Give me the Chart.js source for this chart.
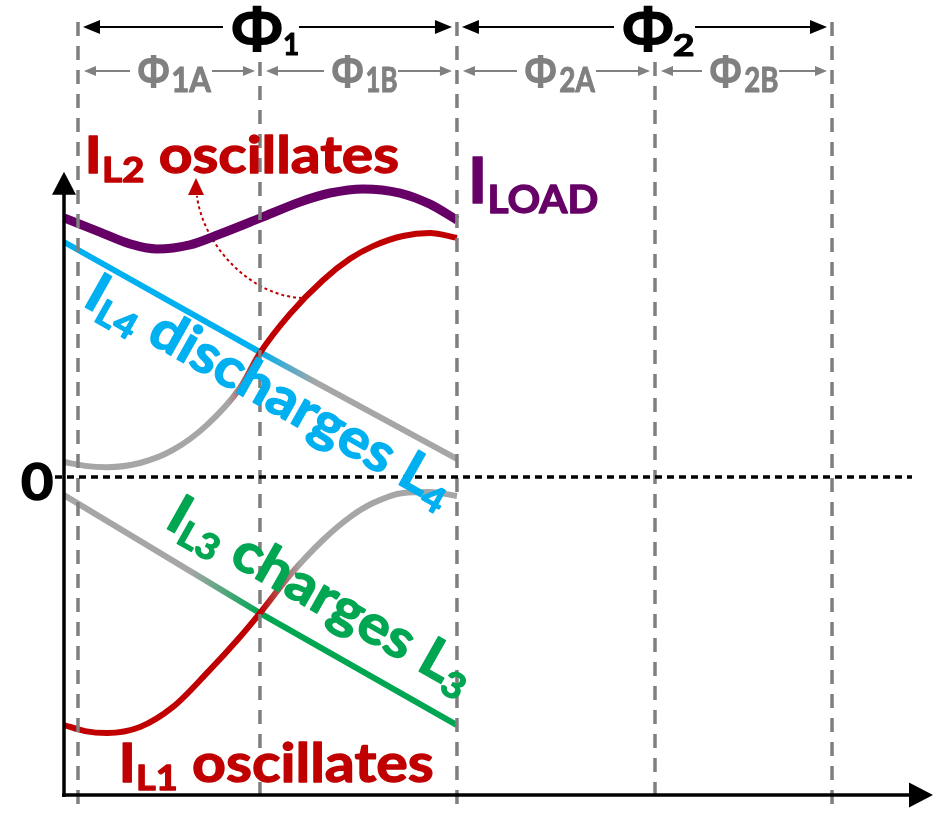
<!DOCTYPE html>
<html><head><meta charset="utf-8">
<script src="https://cdn.jsdelivr.net/npm/chart.js@4.4.0/dist/chart.umd.min.js"></script>
<style>html,body{margin:0;padding:0;background:#fff;}#wrap{width:936px;height:832px;position:relative;}</style>
</head><body><div id="wrap"><canvas id="c"></canvas></div>
<script>
// ---- data (abstract time / current units) ----
const phaseBounds = [1.61, 22.55, 45.22, 68.01, 88.38];
const tOsc  = [0, 2.42, 4.95, 8.75, 12.54, 16.46, 20.25, 22.55, 26.01, 29.80, 32.91, 35.56, 39.01, 42.12, 45.22];
const iL2   = [0.47, 0.35, 0.31, 0.44, 0.85, 1.64, 2.80, 3.90, 5.13, 6.19, 6.86, 7.26, 7.58, 7.67, 7.52];
const iL1   = [-7.80, -7.99, -8.05, -7.86, -7.23, -6.16, -5.03, -4.28, -3.08, -1.98, -1.26, -0.82, -0.50, -0.47, -0.60];
const tLoad = [0, 4.14, 7.59, 10.70, 14.50, 17.95, 22.55, 27.16, 30.61, 34.41, 38.67, 42.12, 45.22];
const iLoad = [8.15, 7.70, 7.33, 7.17, 7.30, 7.64, 8.14, 8.65, 8.93, 9.06, 8.93, 8.58, 8.08];
const tRamp = [0, 22.55, 45.22];
const iL4   = [7.39, 3.93, 0.57];
const iL3   = [-0.57, -4.28, -7.80];
const zeroLabel = '0';
const phaseTexts = [['Φ','1'], ['Φ','2']];
const subPhaseTexts = [['Φ','1A'], ['Φ','1B'], ['Φ','2A'], ['Φ','2B']];

// ---- styles ----
const RED = '#c00000', BLUE = '#00b0f0', GREEN = '#00a651', PURPLE = '#660066', GRAY = '#a6a6a6', DGRAY = '#7f7f7f';
const FAM = 'Lato, "Open Sans", sans-serif';
const WEIGHT = 'bold';
const PHIFAM = '"Open Sans", "DejaVu Sans", sans-serif';

function pts(xs, ys){ return xs.map((x,i)=>({x:x, y:ys[i]})); }
function grad(stops){
  return (ctx)=>{
    const ch = ctx.chart, a = ch.chartArea;
    if(!a) return stops[0][1];
    const xs = ch.scales.x;
    const g = ch.ctx.createLinearGradient(a.left,0,a.right,0);
    stops.forEach(([v,c])=>{
      let f = (xs.getPixelForValue(v)-a.left)/(a.right-a.left);
      g.addColorStop(Math.min(1,Math.max(0,f)), c);
    });
    return g;
  };
}

function capRatio(ctx, fam){
  ctx.font = WEIGHT + ' 100px ' + fam;
  return ctx.measureText('I').actualBoundingBoxAscent/100;
}
function drawRuns(ctx, runs, x, y, angle, width, color, heavy){
  ctx.save();
  ctx.translate(x,y); ctx.rotate(angle*Math.PI/180);
  const r = capRatio(ctx, FAM);
  let adv = 0;
  const items = runs.map(([t,cap,dy])=>{
    const size = cap/r;
    ctx.font = WEIGHT+' '+size+'px '+FAM;
    const m = ctx.measureText(t);
    const it = {t, size, dy, x:adv, l:m.actualBoundingBoxLeft, rr:m.actualBoundingBoxRight};
    adv += m.width;
    return it;
  });
  const f = items[0], la = items[items.length-1];
  const inkL = f.x - f.l, inkR = la.x + la.rr;
  ctx.scale(width/(inkR-inkL),1);
  ctx.translate(-inkL,0);
  ctx.fillStyle = color; ctx.strokeStyle = color; ctx.lineWidth = heavy||0; ctx.lineJoin='round';
  ctx.textBaseline='alphabetic'; ctx.textAlign='left';
  items.forEach(it=>{
    ctx.font=WEIGHT+' '+it.size+'px '+FAM;
    ctx.fillText(it.t, it.x, it.dy);
    if(heavy) ctx.strokeText(it.t, it.x, it.dy);
  });
  ctx.restore();
}
function drawInkBox(ctx, text, fam, x0, y0, x1, y1, color){
  ctx.save();
  ctx.font = 'bold 100px ' + fam;
  const m = ctx.measureText(text);
  const w = m.actualBoundingBoxLeft + m.actualBoundingBoxRight;
  const h = m.actualBoundingBoxAscent + m.actualBoundingBoxDescent;
  ctx.translate(x0,y0); ctx.scale((x1-x0)/w,(y1-y0)/h);
  ctx.fillStyle = color; ctx.textBaseline='alphabetic'; ctx.textAlign='left';
  ctx.fillText(text, m.actualBoundingBoxLeft, m.actualBoundingBoxAscent);
  ctx.restore();
}
function hArrow(ctx, x0, x1, y, gapL, gapR, color, lw, hl, hw){
  ctx.save();
  ctx.strokeStyle=color; ctx.fillStyle=color; ctx.lineWidth=lw; ctx.setLineDash([]);
  ctx.beginPath(); ctx.moveTo(x0+hl-1,y); ctx.lineTo(gapL,y); ctx.moveTo(gapR,y); ctx.lineTo(x1-hl+1,y); ctx.stroke();
  ctx.beginPath(); ctx.moveTo(x0,y); ctx.lineTo(x0+hl,y-hw); ctx.lineTo(x0+hl,y+hw); ctx.closePath(); ctx.fill();
  ctx.beginPath(); ctx.moveTo(x1,y); ctx.lineTo(x1-hl,y-hw); ctx.lineTo(x1-hl,y+hw); ctx.closePath(); ctx.fill();
  ctx.restore();
}

// label layout (positions in data units)
const plotLabels = [
  {runs:[['I',38,0],['L2',25,9],[' oscillates',38,0]], x:2.88, y:9.56, angle:0, width:309, color:RED},
  {runs:[['I',46,0],['LOAD',28,10]], x:47.07, y:8.62, angle:0, width:124, color:PURPLE},
  {runs:[['I',39,0],['L1',25,8],[' oscillates',39,0]], x:6.79, y:-9.59, angle:0, width:309, color:RED},
  {runs:[['I',40,0],['L4',26,8],[' discharges L',40,0],['4',26,8]], x:2.40, y:5.35, angle:29.5, width:408, color:BLUE},
  {runs:[['I',40,0],['L3',26,8],[' charges L',40,0],['3',26,8]], x:11.85, y:-1.62, angle:29.5, width:336, color:GREEN}
];
const phaseLayout = [
  {x:19.33, phiW:50, top:5, bot:52, subGap:2, subW:14, subCap:22, subBase:55},
  {x:64.33, phiW:50, top:5, bot:52, subGap:1, subW:20, subCap:22, subBase:56}
];
const subLayout = [
  {x:8.52, subW:38}, {x:30.84, subW:30}, {x:53.05, subW:35}, {x:74.34, subW:33}
];

const overlay = {
  id:'overlay',
  beforeDatasetsDraw(chart){
    const ctx = chart.ctx, xs = chart.scales.x, ys = chart.scales.y;
    const P = (x,y)=>[xs.getPixelForValue(x), ys.getPixelForValue(y)];
    const s = P(27.39,5.63), c1 = P(21.40,5.69), c2 = P(16.00,7.30), e = P(15.30,8.84), tip = P(15.19,9.40);
    ctx.save();
    ctx.strokeStyle=RED; ctx.lineWidth=2; ctx.setLineDash([3,3]);
    ctx.beginPath(); ctx.moveTo(s[0],s[1]); ctx.bezierCurveTo(c1[0],c1[1],c2[0],c2[1],e[0],e[1]); ctx.stroke();
    ctx.setLineDash([]); ctx.fillStyle=RED;
    ctx.beginPath(); ctx.moveTo(tip[0],tip[1]); ctx.lineTo(tip[0]-8,tip[1]+17); ctx.lineTo(tip[0]+8,tip[1]+17); ctx.closePath(); ctx.fill();
    ctx.restore();
  },
  afterDatasetsDraw(chart){
    const ctx = chart.ctx, xs = chart.scales.x, ys = chart.scales.y, a = chart.chartArea;
    const X = v=>xs.getPixelForValue(v), Y = v=>ys.getPixelForValue(v);
    const bp = phaseBounds.map(X);
    ctx.save();
    ctx.strokeStyle=DGRAY; ctx.lineWidth=3.5; ctx.setLineDash([14,10]);
    bp.forEach((x,i)=>{
      ctx.beginPath(); ctx.moveTo(x, i%2===0 ? 22 : 62); ctx.lineTo(x, a.bottom+10); ctx.stroke();
    });
    ctx.restore();
    const y0 = Y(0);
    ctx.save();
    ctx.strokeStyle='#000'; ctx.lineWidth=3.5; ctx.setLineDash([7,5]);
    ctx.beginPath(); ctx.moveTo(a.left-9,y0); ctx.lineTo(a.right-21,y0); ctx.stroke();
    ctx.restore();
    ctx.save();
    ctx.strokeStyle='#000'; ctx.fillStyle='#000'; ctx.lineWidth=3.5;
    const ax = X(0), top = Y(9.6);
    ctx.beginPath(); ctx.moveTo(ax, a.bottom+2); ctx.lineTo(ax, top+20); ctx.stroke();
    ctx.beginPath(); ctx.moveTo(ax,top); ctx.lineTo(ax-12,top+23); ctx.lineTo(ax+12,top+23); ctx.closePath(); ctx.fill();
    ctx.beginPath(); ctx.moveTo(ax-2, a.bottom); ctx.lineTo(a.right-20, a.bottom); ctx.stroke();
    ctx.beginPath(); ctx.moveTo(a.right,a.bottom); ctx.lineTo(a.right-24,a.bottom-12.5); ctx.lineTo(a.right-24,a.bottom+12.5); ctx.closePath(); ctx.fill();
    ctx.restore();
    drawRuns(ctx, [[zeroLabel,38,0]], ax-42, y0+23, 0, 30, '#000', 1.5);
    phaseTexts.forEach((pt,i)=>{
      const L = phaseLayout[i];
      const left = X(L.x);
      drawInkBox(ctx, pt[0], PHIFAM, left, L.top, left+L.phiW, L.bot, '#000');
      const sl = left + L.phiW + L.subGap;
      drawRuns(ctx, [[pt[1],L.subCap,0]], sl, L.subBase, 0, L.subW, '#000', 1);
      hArrow(ctx, bp[2*i]+5, bp[2*i+2]-5, 27, left-9, sl+L.subW+1, '#000', 2, 17, 7);
    });
    subPhaseTexts.forEach((pt,i)=>{
      const L = subLayout[i];
      const left = X(L.x);
      drawInkBox(ctx, pt[0], PHIFAM, left, 53, left+31, 88, '#808080');
      const sl = left + 35;
      drawRuns(ctx, [[pt[1],25,0]], sl, 92, 0, L.subW, '#808080', 1);
      hArrow(ctx, bp[i]+6, bp[i+1]-5, 71, left-8, sl+L.subW+1, '#808080', 2, 12, 5);
    });
    plotLabels.forEach(l=>drawRuns(ctx, l.runs, X(l.x), Y(l.y), l.angle, l.width, l.color, 1.3));
  }
};

new Chart(document.getElementById('c'), {
  type:'line',
  data:{datasets:[
    {label:'ILOAD', data:pts(tLoad,iLoad), borderColor:PURPLE, borderWidth:9},
    {label:'IL2', data:pts(tOsc,iL2), borderColor:grad([[0,GRAY],[18.9,GRAY],[22.55,RED],[100,RED]]), borderWidth:6},
    {label:'IL4', data:pts(tRamp,iL4), borderColor:grad([[0,BLUE],[22.55,BLUE],[29.0,GRAY],[100,GRAY]]), borderWidth:6, cubicInterpolationMode:'default', tension:0},
    {label:'IL1', data:pts(tOsc,iL1), borderColor:grad([[0,RED],[22.55,RED],[27.2,GRAY],[100,GRAY]]), borderWidth:6},
    {label:'IL3', data:pts(tRamp,iL3), borderColor:grad([[0,GRAY],[14.5,GRAY],[22.55,GREEN],[100,GREEN]]), borderWidth:6, cubicInterpolationMode:'default', tension:0}
  ]},
  options:{
    responsive:true, maintainAspectRatio:false, animation:false,
    layout:{padding:{left:64, right:3, top:159, bottom:37}},
    datasets:{line:{pointRadius:0, fill:false, clip:false, cubicInterpolationMode:'monotone', borderCapStyle:'butt', borderJoinStyle:'round'}},
    scales:{
      x:{type:'linear', min:0, max:100, display:false},
      y:{type:'linear', min:-10, max:10, display:false}
    },
    plugins:{legend:{display:false}, tooltip:{enabled:false}}
  },
  plugins:[overlay]
});
</script></body></html>
